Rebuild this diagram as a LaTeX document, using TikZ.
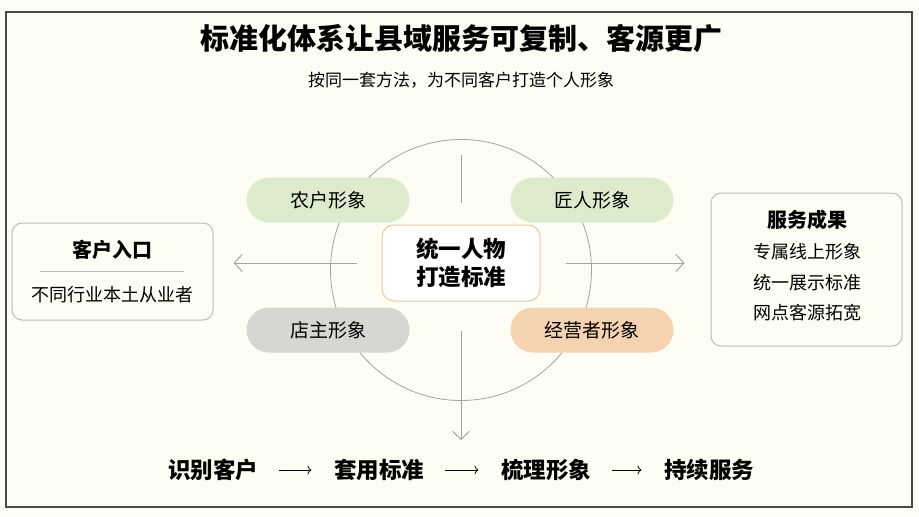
\documentclass[tikz,border=0pt]{standalone}
\usepackage{fontspec}
\setmainfont{Noto Sans CJK SC}
\usetikzlibrary{arrows.meta}
\definecolor{paper}{HTML}{FDFDF3}
\definecolor{frameline}{HTML}{4B4B45}
\definecolor{guideline}{HTML}{A3A3A0}
\definecolor{panelline}{HTML}{BDBDB5}
\definecolor{coreline}{HTML}{E6C8A2}
\definecolor{farmergreen}{HTML}{DCEBCB}
\definecolor{shopgray}{HTML}{D6D6D2}
\definecolor{traderpeach}{HTML}{F6D3B0}
\tikzset{
  pill/.style={rounded corners=22.5pt, minimum width=163pt, minimum height=45pt, font=\fontsize{19}{22}\selectfont},
  panel/.style={draw=panelline, line width=1pt, rounded corners=10pt, fill=paper},
  guide/.style={draw=guideline, line width=1pt},
  thinarrow/.style={guide, -{Straight Barb[length=8pt,width=17pt]}},
  flowarrow/.style={line width=0.8pt, -{To[length=4pt,width=9pt]}, shorten <=17pt, shorten >=19pt},
  stepname/.style={font=\fontsize{22.5}{26}\selectfont\bfseries},
}
\begin{document}
\begin{tikzpicture}[x=1pt,y=-1pt]
  \useasboundingbox (0,0) rectangle (919,517);
  \fill[paper] (0,0) rectangle (919,517);
  \draw[frameline, line width=2.5pt] (6,12) rectangle (912,507);

  \node[font=\fontsize{29}{34}\selectfont\bfseries] (title) at (461,38) {标准化体系让县域服务可复制、客源更广};
  \node[font=\fontsize{17}{20}\selectfont] (subtitle) at (461,80) {按同一套方法，为不同客户打造个人形象};

  \node[circle, draw=guideline, line width=0.8pt, minimum size=261pt, inner sep=0pt] (ring) at (461,270) {};
  \node[draw=coreline, fill=white, line width=1pt, rounded corners=12pt, minimum width=158pt, minimum height=76pt,
        align=center, font=\fontsize{22.5}{28}\selectfont\bfseries] (core) at (461,263) {统一人物\\打造标准};

  \node[pill, fill=farmergreen] (farmer) at (328,200) {农户形象};
  \node[pill, fill=farmergreen] (craftsman) at (592,200) {匠人形象};
  \node[pill, fill=shopgray] (shopkeeper) at (328,330) {店主形象};
  \node[pill, fill=traderpeach] (operator) at (592,330) {经营者形象};

  \node[panel, minimum width=201pt, minimum height=97pt] (entry) at (112.5,271.5) {};
  \node[font=\fontsize{20}{24}\selectfont\bfseries] (entrytitle) at (112,250) {客户入口};
  \draw[panelline, line width=0.6pt] (40,271) -- (184,271);
  \node[font=\fontsize{18}{22}\selectfont] (entrytext) at (112,295) {不同行业本土从业者};

  \node[panel, minimum width=191pt, minimum height=153pt] (result) at (806.5,269.5) {};
  \node[font=\fontsize{20}{24}\selectfont\bfseries] (resulttitle) at (807,220) {服务成果};
  \node[font=\fontsize{18}{22}\selectfont] (resultone) at (807,252) {专属线上形象};
  \node[font=\fontsize{18}{22}\selectfont] (resulttwo) at (807,283) {统一展示标准};
  \node[font=\fontsize{18}{22}\selectfont] (resultthree) at (807,313) {网点客源拓宽};

  \coordinate (drop) at (461,440);
  \draw[guide, shorten <=16pt, shorten >=22pt] (ring.north) -- (core.north);
  \draw[thinarrow, shorten <=29pt] (core.south) -- (drop);
  \draw[thinarrow, shorten <=25pt, shorten >=20pt] (core.west) -- (core.west -| entry.east);
  \draw[thinarrow, shorten <=25pt, shorten >=26pt] (core.east) -- (core.east -| result.west);

  \node[stepname] (identify) at (213,470) {识别客户};
  \node[stepname] (apply) at (379,470) {套用标准};
  \node[stepname] (sortout) at (546,470) {梳理形象};
  \node[stepname] (serve) at (709,470) {持续服务};
  \draw[flowarrow] (identify) -- (apply);
  \draw[flowarrow] (apply) -- (sortout);
  \draw[flowarrow] (sortout) -- (serve);
\end{tikzpicture}
\end{document}
